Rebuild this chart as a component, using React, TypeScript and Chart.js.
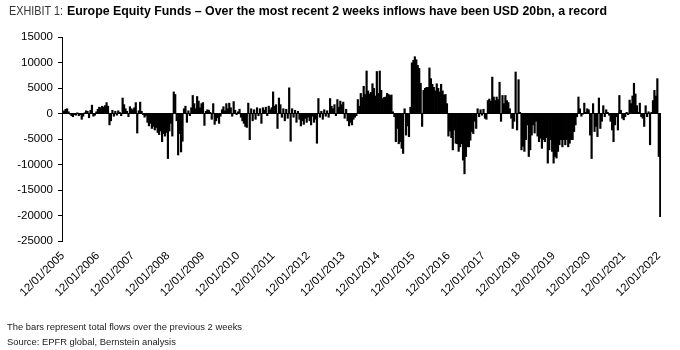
import React, { useEffect, useRef } from "react";
import { Chart, registerables } from "chart.js";

Chart.register(...registerables);

// Yearly tick labels (one every 24 half-month periods)
const tickLabels = [
  "12/01/2005", "12/01/2006", "12/01/2007", "12/01/2008", "12/01/2009", "12/01/2010",
  "12/01/2011", "12/01/2012", "12/01/2013", "12/01/2014", "12/01/2015", "12/01/2016",
  "12/01/2017", "12/01/2018", "12/01/2019", "12/01/2020", "12/01/2021", "12/01/2022",
];

// Flows (USD m), roughly two readings per month
const flows2005 = [300, 600, 900, 1000, 400, -200, -500, -700, -300, -400, 200, -500, -300, -1200, -600, 200, 600, 500, -900, 700, 1700, -600, -400, 400];
const flows2006 = [900, 1300, 1200, 1500, 1300, 1600, 2200, 1500, -2300, -1500, 700, -600, 500, -400, 600, 300, -500, 3100, 1800, 1000, 500, -700, 1400, 1000];
const flows2007 = [800, 1200, 2200, -3900, 600, 2300, 500, -300, -800, -500, -1800, -2500, -2000, -3000, -2600, -3300, -2800, -3800, -4200, -3500, -5600, -4000, -4500, -3800];
const flows2008 = [-8900, -3500, -2000, -4500, 4300, 3800, -1500, -8200, -4000, -7600, -5500, 1000, 1500, -1800, 600, -500, 1200, 3600, 2000, 1000, 3400, 2500, 1200, 2000];
const flows2009 = [2200, -2400, 500, 800, 700, 300, -1200, 2000, -2200, -1500, -900, -2000, -600, 800, 1400, 600, 2000, 1000, 2100, 1200, -600, 2400, 700, -300];
const flows2010 = [400, 900, -800, -1500, -2000, -2600, -2800, 2100, -5200, 1000, -1500, 800, -1200, 1200, -500, 1000, -2000, 1200, 700, 1300, -500, 1500, 800, 1200];
const flows2011 = [4300, 1500, 1800, -3000, 3100, 1800, -800, 1000, -1500, 900, -1000, 5100, -5500, 1000, -800, 700, -1800, 500, -1200, -2500, -1500, -2200, -1000, -1800];
const flows2012 = [-800, -1500, -2300, -600, -1800, -1200, -5900, 3000, -800, 500, -1200, 800, -600, 600, -800, 3000, 1500, 1000, 1800, -500, 2800, 1300, 2500, 1800];
const flows2013 = [2300, -1000, 900, -1500, -2500, -1800, -2300, -1200, -800, -500, 2800, 1500, 4000, 3200, 5400, 3800, 8400, 4500, 3900, 4200, 5900, 5000, 3500, 8300];
const flows2014 = [4000, 8400, 4600, 3000, 3200, 3300, 4000, 3800, 3600, 3700, 400, -700, -5600, -3000, -6000, -5600, -6900, -7900, 1000, -4300, -2500, -4600, 1300, 10000];
const flows2015 = [10500, 11200, 10600, 9500, 8900, 6000, -2600, 4600, 5000, 5200, 5200, 9000, 6900, 5800, 5200, 4500, 5900, 5000, 4300, 5800, 4500, 3700, 3800, 2000];
const flows2016 = [-4500, -3500, -4800, -7200, -3300, -5900, -6000, -7500, -6600, -6000, -9200, -11900, -8500, -6600, -6600, -5300, -3600, -4000, -1600, -3000, 1000, -700, 800, -400];
const flows2017 = [900, -1000, -1200, 2600, 2900, 2500, 7200, 3300, 2600, 3300, 2800, 6200, -1600, 3600, 2000, 3600, 2600, 2200, 1000, -1000, -3000, -1600, 8200, -3300];
const flows2018 = [6700, 300, -7200, -6500, -7500, -5200, -2300, -8500, -7200, -4300, -2300, -3900, -1600, -4500, -5600, -4900, -6900, -5200, -5600, -4800, -9800, -7200, -5200, -7500];
const flows2019 = [-9800, -8500, -8800, -7500, -6200, -5200, -6600, -5200, -6200, -5200, -6600, -5900, -5200, -5200, -3600, -2300, -700, 3300, 1000, -600, -200, 2100, 300, 1000];
const flows2020 = [800, -4300, -8900, 2000, -3600, -2600, -4600, 3100, -3000, -1600, 1600, -700, 800, 300, -400, -1600, -3300, -5600, -2300, -700, -3300, 3600, 700, -1000];
const flows2021 = [-1300, -700, 300, -300, 2700, 2000, 3500, 6000, 3900, 1600, 300, 2100, -700, -1000, -2600, 1600, -700, 400, -6200, 300, 2600, 4600, 3500, 6900];
const flows2022 = [-8500, -20300];

const flows = [
  ...flows2005, ...flows2006, ...flows2007, ...flows2008, ...flows2009, ...flows2010,
  ...flows2011, ...flows2012, ...flows2013, ...flows2014, ...flows2015, ...flows2016,
  ...flows2017, ...flows2018, ...flows2019, ...flows2020, ...flows2021, ...flows2022,
];

const PERIODS_PER_YEAR = 24;
const categories = flows.map((_, i) =>
  i % PERIODS_PER_YEAR === 0 ? tickLabels[i / PERIODS_PER_YEAR] ?? "" : ""
);

const axisFont = { family: "'Liberation Sans', Arial, sans-serif", size: 11.5 };

export default function App() {
  const canvasRef = useRef<HTMLCanvasElement | null>(null);
  const prefixRef = useRef<HTMLSpanElement | null>(null);
  const titleRef = useRef<HTMLSpanElement | null>(null);

  useEffect(() => {
    // squeeze the title text horizontally to mimic the condensed font of the reference
    const fit = (el: HTMLSpanElement | null, target: number) => {
      if (!el) return;
      el.style.transform = "none";
      const w = el.getBoundingClientRect().width;
      if (w > 0) el.style.transform = `scaleX(${target / w})`;
    };
    fit(prefixRef.current, 54);
    fit(titleRef.current, 540);

    if (!canvasRef.current) return;
    const chart = new Chart(canvasRef.current, {
      type: "bar",
      data: {
        labels: categories,
        datasets: [
          {
            data: flows,
            backgroundColor: "#000000",
            borderWidth: 0,
            barPercentage: 1.5,
            categoryPercentage: 1,
          },
        ],
      },
      options: {
        animation: false,
        responsive: false,
        maintainAspectRatio: false,
        layout: { padding: { top: 37, right: 19, bottom: 0, left: 0 } },
        plugins: { legend: { display: false }, tooltip: { enabled: false } },
        scales: {
          x: {
            type: "category",
            offset: true,
            grid: { display: false },
            border: { display: false },
            ticks: {
              autoSkip: false,
              minRotation: 45,
              maxRotation: 45,
              padding: 0,
              color: "#000",
              font: axisFont,
              callback: (_v: any, i: number) => (categories[i] ? categories[i] : null),
            },
            afterFit: (s: any) => {
              s.height = 109;
            },
          },
          y: {
            min: -25000,
            max: 15000,
            ticks: {
              stepSize: 5000,
              color: "#000",
              font: axisFont,
              padding: 5,
              callback: (v: any) => String(v),
            },
            grid: {
              color: (c: any) => (c.tick && c.tick.value === 0 ? "#000" : "rgba(0,0,0,0)"),
              lineWidth: 1,
              drawTicks: true,
              tickLength: 4,
              tickColor: "#000",
            },
            border: { display: true, color: "#000", width: 1 },
            afterFit: (s: any) => {
              s.width = 62;
            },
          },
        },
      },
    });
    return () => chart.destroy();
  }, []);

  const titleFont = "'Liberation Sans', Arial, sans-serif";

  return (
    <div style={{ position: "absolute", left: 0, top: 0, width: 680, height: 350, background: "#fff", overflow: "hidden" }}>
      <canvas ref={canvasRef} width={680} height={350} style={{ display: "block", width: 680, height: 350 }} />
      <span
        ref={prefixRef}
        style={{
          position: "absolute",
          left: 9,
          top: 3,
          whiteSpace: "nowrap",
          fontFamily: titleFont,
          fontSize: 13,
          color: "#333",
          transformOrigin: "0 0",
        }}
      >
        EXHIBIT 1:
      </span>
      <span
        ref={titleRef}
        style={{
          position: "absolute",
          left: 67,
          top: 3,
          whiteSpace: "nowrap",
          fontFamily: titleFont,
          fontWeight: "bold",
          fontSize: 13,
          color: "#000",
          transformOrigin: "0 0",
        }}
      >
        Europe Equity Funds – Over the most recent 2 weeks inflows have been USD 20bn, a record
      </span>
      <div
        style={{
          position: "absolute",
          left: 7,
          top: 319,
          fontFamily: "'Liberation Sans', Arial, sans-serif",
          fontSize: 9.4,
          lineHeight: "15px",
          color: "#222",
          whiteSpace: "nowrap",
        }}
      >
        <div>The bars represent total flows over the previous 2 weeks</div>
        <div>Source: EPFR global, Bernstein analysis</div>
      </div>
    </div>
  );
}
